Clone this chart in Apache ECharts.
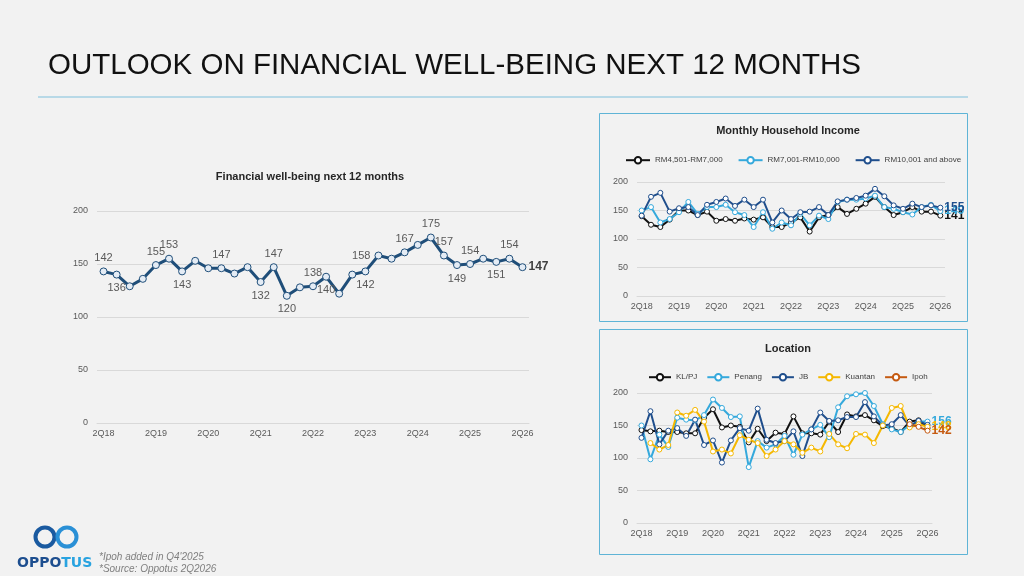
<!DOCTYPE html>
<html lang="en">
<head>
<meta charset="UTF-8">
<title>Outlook on financial well-being</title>
<script src="https://cdn.jsdelivr.net/npm/echarts@6/dist/echarts.min.js"></script>
<style>
  html, body { margin: 0; padding: 0; background: #f2f2f2; }
  #main { width: 1024px; height: 576px; }
</style>
</head>
<body>
<div id="main"></div>
<script type="text/javascript">
// quarters, 2Q18 .. 2Q26
var quarters = ['2Q18','3Q18','4Q18','1Q19','2Q19','3Q19','4Q19','1Q20','2Q20','3Q20','4Q20',
  '1Q21','2Q21','3Q21','4Q21','1Q22','2Q22','3Q22','4Q22','1Q23','2Q23','3Q23','4Q23',
  '1Q24','2Q24','3Q24','4Q24','1Q25','2Q25','3Q25','4Q25','1Q26','2Q26'];
var yTicks = [0, 50, 100, 150, 200];

// main index
var wellBeing = [143,140,129,136,149,155,143,153,146,146,141,147,133,147,120,128,129,138,122,140,
  143,158,155,161,168,175,158,149,150,155,152,155,147];
// printed labels on the slide (null = none) and where they sit
var wellText = ['142','136',null,null,'155','153','143',null,null,'147',null,null,'132','147','120',null,
  '138','140',null,null,'142','158',null,'167',null,'175','157','149','154',null,'151','154',null];
var wellPos = ['top','bottom',null,null,'top','top','bottom',null,null,'top',null,null,'bottom','top','bottom',null,
  'top','bottom',null,null,'bottom','left',null,'top',null,'top','top','bottom','top',null,'bottom','top',null];

// monthly household income
var incomeNames = ['RM4,501-RM7,000', 'RM7,001-RM10,000', 'RM10,001 and above'];
var incomeLow = [140,125,121,134,150,150,142,148,132,135,132,136,134,138,121,121,129,138,113,138,
  142,156,144,153,162,174,156,142,147,156,148,148,141];
var incomeMid = [150,156,129,135,147,165,144,156,156,160,147,142,121,147,118,129,124,144,124,141,
  135,165,169,169,171,176,156,153,147,143,156,160,149];
var incomeHigh = [141,174,181,148,154,156,142,160,165,171,158,169,156,169,129,150,135,147,148,156,
  142,166,169,172,176,188,175,159,153,162,156,159,155];
var incomeColors = ['#111111', '#35a9dc', '#1f4e8c'];

// location
var locNames = ['KL/PJ', 'Penang', 'JB', 'Kuantan', 'Ipoh'];
var klpj = [143,141,142,140,140,138,138,162,175,147,150,148,124,145,126,139,137,164,138,138,
  136,156,140,167,164,166,158,149,146,140,156,158,146];
var penang = [150,98,136,117,162,159,158,166,190,177,163,164,86,126,116,121,134,105,136,144,
  151,132,178,195,198,200,180,152,144,140,151,156,156];
var jb = [131,172,121,142,146,134,159,120,127,93,127,146,142,176,128,123,126,141,103,144,
  170,157,158,163,163,186,164,150,152,166,149,157,151];
var kuantan = [null,123,113,120,170,165,174,156,110,113,107,135,128,123,103,113,126,121,108,116,
  110,137,121,115,137,136,123,150,177,180,147,152,148];
var ipoh = [null,null,null,null,null,null,null,null,null,null,null,null,null,null,null,null,null,null,null,null,
  null,null,null,null,null,null,null,null,null,null,152,148,142];
var locColors = ['#111111', '#35a9dc', '#1f4e8c', '#f5b800', '#c55a11'];
var locEndLabel = [false, true, false, true, true];

var myChart = echarts.init(document.getElementById('main'));

function xAx(gridIndex, size) {
  return {
    type: 'category', gridIndex: gridIndex, data: quarters,
    axisLine: { show: true, lineStyle: { color: '#d9d9d9' } },
    axisTick: { show: false },
    axisLabel: { interval: 3, color: '#595959', fontSize: size, margin: 6, fontFamily: 'Liberation Sans' }
  };
}
function yAx(gridIndex, size) {
  return {
    type: 'value', gridIndex: gridIndex, min: yTicks[0], max: yTicks[yTicks.length - 1], interval: 50,
    axisLine: { show: false }, axisTick: { show: false },
    splitLine: { lineStyle: { color: '#d9d9d9' } },
    axisLabel: { color: '#595959', fontSize: size, margin: 9, fontFamily: 'Liberation Sans' }
  };
}
function smallLine(name, data, color, idx, endLbl) {
  return {
    name: name, type: 'line', data: data, xAxisIndex: idx, yAxisIndex: idx,
    symbol: 'circle', symbolSize: 5, showAllSymbol: true, connectNulls: false,
    lineStyle: { color: color, width: 2 },
    itemStyle: { color: '#ffffff', borderColor: color, borderWidth: 1 },
    endLabel: {
      show: endLbl, color: color, fontWeight: 'bold', fontSize: 12, distance: 4,
      fontFamily: 'Liberation Sans'
    },
    animation: false
  };
}

var wellData = wellBeing.map(function (v, i) {
  if (!wellText[i]) return v;
  return { value: v, label: { show: true, formatter: wellText[i], position: wellPos[i] } };
});

var series = [{
  name: 'Financial well-being', type: 'line', data: wellData, xAxisIndex: 0, yAxisIndex: 0,
  symbol: 'circle', symbolSize: 7,
  lineStyle: { color: '#1f4e79', width: 3 },
  itemStyle: { color: '#e4ecf5', borderColor: '#1f4e79', borderWidth: 1 },
  label: { show: false, color: '#595959', fontSize: 11, distance: 4, fontFamily: 'Liberation Sans' },
  endLabel: { show: true, color: '#404040', fontWeight: 'bold', fontSize: 12, distance: 6, fontFamily: 'Liberation Sans' },
  animation: false
}];
[incomeLow, incomeMid, incomeHigh].forEach(function (d, i) {
  series.push(smallLine(incomeNames[i], d, incomeColors[i], 1, true));
});
[klpj, penang, jb, kuantan, ipoh].forEach(function (d, i) {
  series.push(smallLine(locNames[i], d, locColors[i], 2, locEndLabel[i]));
});

var option = {
  backgroundColor: '#f2f2f2',
  textStyle: { fontFamily: 'Liberation Sans' },
  title: [
    { text: 'Financial well-being next 12 months', left: 305, top: 166, textAlign: 'center',
      textStyle: { fontSize: 11, fontWeight: 'bold', color: '#262626' } },
    { text: 'Monthly Household Income', left: 783, top: 120, textAlign: 'center',
      textStyle: { fontSize: 11, fontWeight: 'bold', color: '#262626' } },
    { text: 'Location', left: 783, top: 338, textAlign: 'center',
      textStyle: { fontSize: 11, fontWeight: 'bold', color: '#262626' } }
  ],
  legend: [
    { data: incomeNames, left: 620, top: 151, itemWidth: 24, itemHeight: 8, itemGap: 15,
      textStyle: { fontSize: 8, color: '#404040' } },
    { data: locNames, left: 643, top: 368, itemWidth: 22, itemHeight: 8, itemGap: 9,
      textStyle: { fontSize: 8, color: '#404040' } }
  ],
  grid: [
    { left: 97, right: 495, top: 211, bottom: 153 },
    { left: 637, right: 79, top: 182, bottom: 280 },
    { left: 637, right: 92, top: 393, bottom: 53 }
  ],
  xAxis: [xAx(0, 9), xAx(1, 9), xAx(2, 9)],
  yAxis: [yAx(0, 9), yAx(1, 9), yAx(2, 9)],
  series: series,
  graphic: [
    { type: 'text', x: 48, y: 66, style: { text: 'OUTLOOK ON FINANCIAL WELL-BEING NEXT 12 MONTHS',
      font: '29.5px "Liberation Sans"', fill: '#111111', textVerticalAlign: 'middle' } },
    { type: 'line', shape: { x1: 38, y1: 97, x2: 968, y2: 97 }, style: { stroke: '#7fc0dc', lineWidth: 1 } },
    { type: 'rect', shape: { x: 599.5, y: 113.5, width: 368, height: 208 }, z: -1,
      style: { fill: 'none', stroke: '#5fb4d6', lineWidth: 1 } },
    { type: 'rect', shape: { x: 599.5, y: 329.5, width: 368, height: 225 }, z: -1,
      style: { fill: 'none', stroke: '#5fb4d6', lineWidth: 1 } },
    { type: 'circle', shape: { cx: 45, cy: 537, r: 9.5 }, style: { fill: 'none', stroke: '#1a5aa0', lineWidth: 4 } },
    { type: 'circle', shape: { cx: 67, cy: 537, r: 9.5 }, style: { fill: 'none', stroke: '#2a90d6', lineWidth: 4 } },
    { type: 'text', x: 17, y: 563, style: { text: '{a|OPPO}{b|TUS}', textVerticalAlign: 'middle',
      rich: { a: { font: 'bold 14px "DejaVu Sans"', fill: '#1d4e8f' }, b: { font: 'bold 14px "DejaVu Sans"', fill: '#29a3e0' } } } },
    { type: 'text', x: 99, y: 557, style: { text: "*Ipoh added in Q4'2025", font: 'italic 10px "Liberation Sans"',
      fill: '#7f7f7f', textVerticalAlign: 'middle' } },
    { type: 'text', x: 99, y: 569, style: { text: '*Source: Oppotus 2Q2026', font: 'italic 10px "Liberation Sans"',
      fill: '#7f7f7f', textVerticalAlign: 'middle' } }
  ]
};
myChart.setOption(option);
</script>
</body>
</html>
